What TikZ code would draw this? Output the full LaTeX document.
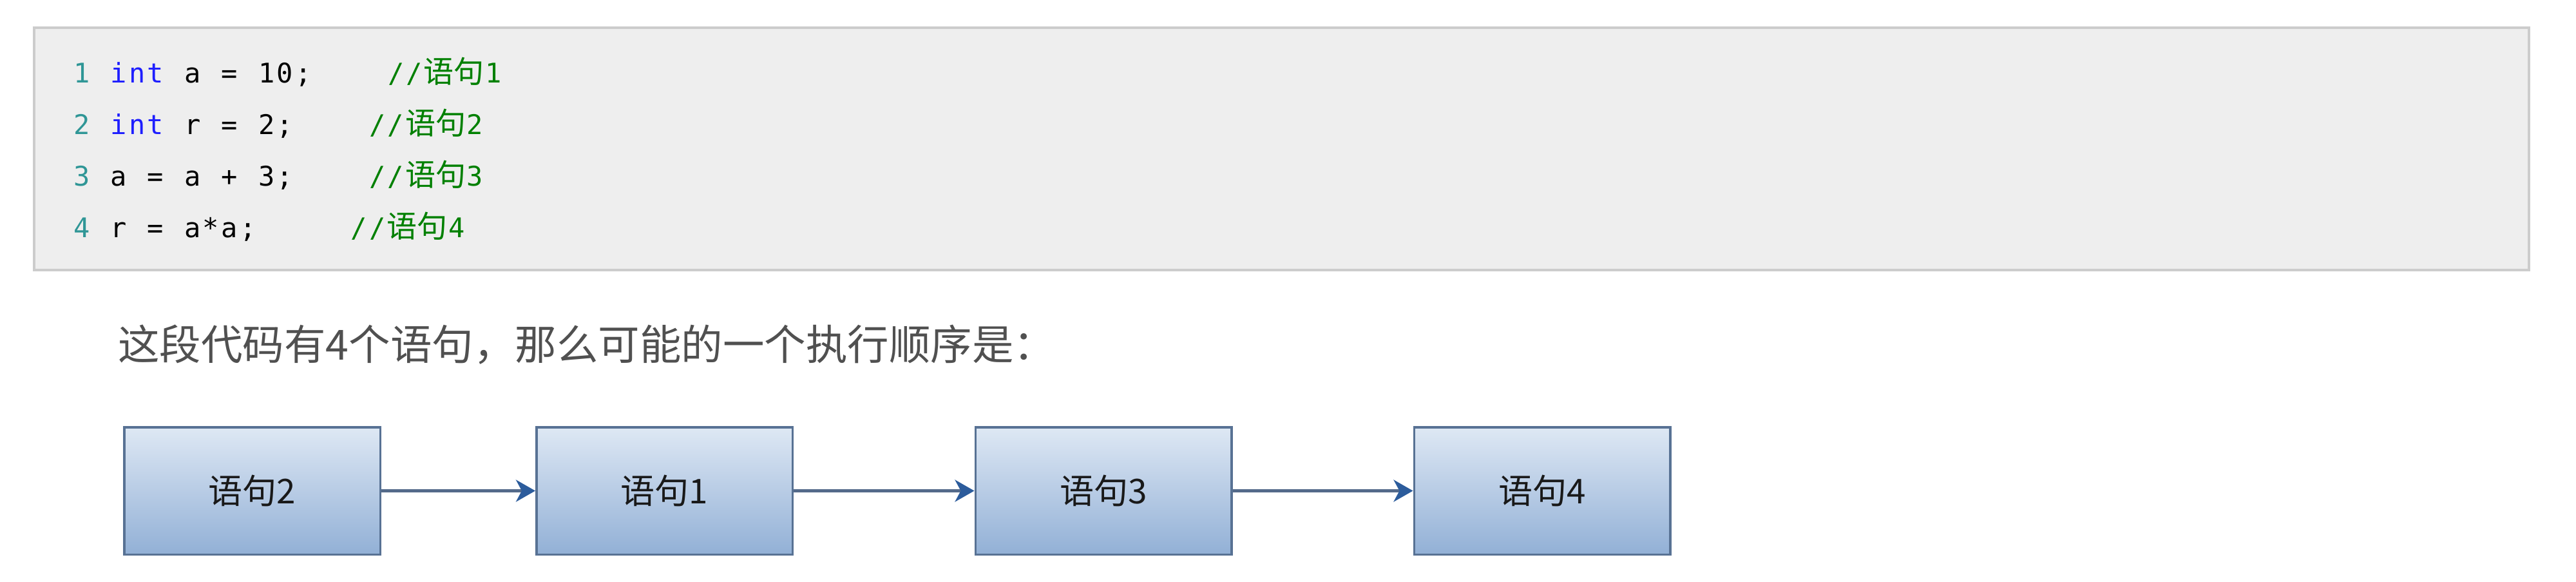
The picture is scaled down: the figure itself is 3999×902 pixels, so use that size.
\documentclass[tikz,border=0pt]{standalone}
\usepackage{fontspec}
\setmainfont{DejaVu Sans}
\newfontfamily\cjk{Noto Sans CJK SC}
\newfontfamily\codefont{DejaVu Sans Mono}
\usetikzlibrary{arrows.meta}

\definecolor{codebg}{RGB}{238,238,238}
\definecolor{codeborder}{RGB}{204,204,204}
\definecolor{lnum}{RGB}{47,150,150}
\definecolor{kw}{RGB}{30,30,255}
\definecolor{cmt}{RGB}{0,128,0}
\definecolor{para}{RGB}{80,80,80}
\definecolor{boxborder}{RGB}{88,114,148}
\definecolor{boxtop}{RGB}{222,232,244}
\definecolor{boxbot}{RGB}{146,176,214}
\definecolor{arrowline}{RGB}{84,106,138}
\definecolor{arrowhead}{RGB}{44,92,156}

\newlength\mpitch
\setlength\mpitch{14.35pt}
\newcommand\mono[1]{\monoloop#1\relax}
\def\monoloop#1{\ifx\relax#1\else\monochar{#1}\expandafter\monoloop\fi}
\def\monochar#1{\ifx_#1\hspace*{\mpitch}\else\makebox[\mpitch][c]{#1}\fi}
\newcommand\cjkc[1]{{\cjk\fontsize{23.5pt}{23.5pt}\selectfont #1}}

\tikzset{
  codeblock/.style={draw=codeborder, line width=2pt, fill=codebg, inner sep=0pt,
    minimum width=1936.5pt, minimum height=188pt},
  codetok/.style={anchor=base west, inner sep=0pt,
    font=\codefont\fontsize{21pt}{21pt}\selectfont},
  lnumtok/.style={codetok, text=lnum},
  kwtok/.style={codetok, text=kw},
  plaintok/.style={codetok, text=black},
  cmttok/.style={codetok, text=cmt},
  paratext/.style={anchor=base west, inner sep=0pt, text=para,
    font=\cjk\fontsize{32.25pt}{32.25pt}\selectfont},
  stmtbox/.style={draw=boxborder, line width=1.75pt, top color=boxtop, bottom color=boxbot,
    minimum width=198.75pt, minimum height=98.75pt, inner sep=0pt,
    text=black!90, font=\cjk\fontsize{26.5pt}{26.5pt}\selectfont},
  flow/.style={draw=arrowline, line width=2.2pt,
    -{Stealth[length=15pt, width=17pt, inset=4.5pt, color=arrowhead]}}
}

\begin{document}
\begin{tikzpicture}[x=0.5pt, y=-0.5pt]
\useasboundingbox (0,0) rectangle (3999,902);
\fill[white] (0,0) rectangle (3999,902);

% code block
\node[codeblock] (code) at (1989.5,231) {};

% line 1
\node[lnumtok]  (n1) at ({112+0*28.7},128) {\mono{1}};
\node[kwtok]    (k1) at ({112+2*28.7},128) {\mono{int}};
\node[plaintok] (p1) at ({112+6*28.7},128) {\mono{a_=_10;}};
\node[cmttok]   (c1) at ({112+17*28.7},128) {\mono{//}\cjkc{语句}\mono{1}};
% line 2
\node[lnumtok]  (n2) at ({112+0*28.7},208) {\mono{2}};
\node[kwtok]    (k2) at ({112+2*28.7},208) {\mono{int}};
\node[plaintok] (p2) at ({112+6*28.7},208) {\mono{r_=_2;}};
\node[cmttok]   (c2) at ({112+16*28.7},208) {\mono{//}\cjkc{语句}\mono{2}};
% line 3
\node[lnumtok]  (n3) at ({112+0*28.7},288) {\mono{3}};
\node[plaintok] (p3) at ({112+2*28.7},288) {\mono{a_=_a_+_3;}};
\node[cmttok]   (c3) at ({112+16*28.7},288) {\mono{//}\cjkc{语句}\mono{3}};
% line 4
\node[lnumtok]  (n4) at ({112+0*28.7},368) {\mono{4}};
\node[plaintok] (p4) at ({112+2*28.7},368) {\mono{r_=_a*a;}};
\node[cmttok]   (c4) at ({112+15*28.7},368) {\mono{//}\cjkc{语句}\mono{4}};

% paragraph
\node[paratext] (para) at (183,558) {这段代码有4个语句，那么可能的一个执行顺序是：};

% statement boxes
\node[stmtbox] (b1) at (391.5,761.5) {语句2};
\node[stmtbox] (b2) at (1031.5,761.5) {语句1};
\node[stmtbox] (b3) at (1713,761.5) {语句3};
\node[stmtbox] (b4) at (2394,761.5) {语句4};

% arrows
\draw[flow] (b1.east) -- (b2.west);
\draw[flow] (b2.east) -- (b3.west);
\draw[flow] (b3.east) -- (b4.west);
\end{tikzpicture}
\end{document}
